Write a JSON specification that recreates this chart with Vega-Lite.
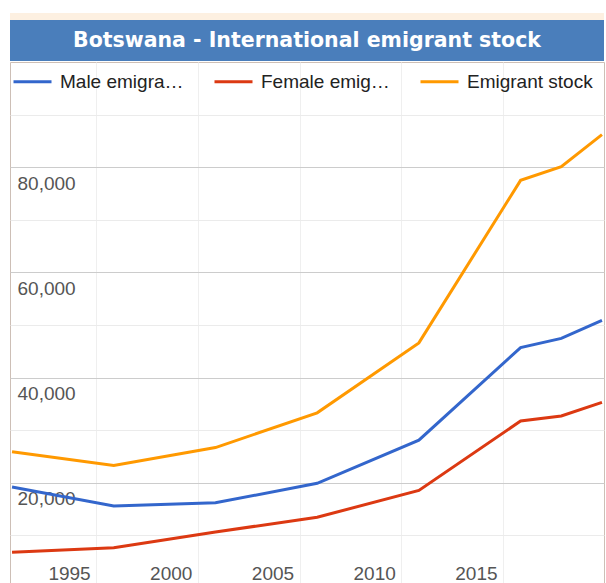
{
  "$schema": "https://vega.github.io/schema/vega-lite/v6.json",
  "autosize": {"type": "pad"},
  "padding": {"left": 5, "top": 13, "right": 0, "bottom": 0},
  "background": "white",
  "spacing": 0,
  "config": {"font": "Liberation Sans", "concat": {"spacing": 0}},
  "datasets": {
    "emigrants": [
      {"year": 1990, "series": "Male emigrants", "value": 19200},
      {"year": 1995, "series": "Male emigrants", "value": 15600},
      {"year": 2000, "series": "Male emigrants", "value": 16200},
      {"year": 2005, "series": "Male emigrants", "value": 19900},
      {"year": 2010, "series": "Male emigrants", "value": 28100},
      {"year": 2015, "series": "Male emigrants", "value": 45700},
      {"year": 2017, "series": "Male emigrants", "value": 47450},
      {"year": 2019, "series": "Male emigrants", "value": 50900},
      {"year": 1990, "series": "Female emigrants", "value": 6800},
      {"year": 1995, "series": "Female emigrants", "value": 7650},
      {"year": 2000, "series": "Female emigrants", "value": 10650},
      {"year": 2005, "series": "Female emigrants", "value": 13450},
      {"year": 2010, "series": "Female emigrants", "value": 18550},
      {"year": 2015, "series": "Female emigrants", "value": 31750},
      {"year": 2017, "series": "Female emigrants", "value": 32700},
      {"year": 2019, "series": "Female emigrants", "value": 35300},
      {"year": 1990, "series": "Emigrant stock", "value": 25900},
      {"year": 1995, "series": "Emigrant stock", "value": 23300},
      {"year": 2000, "series": "Emigrant stock", "value": 26700},
      {"year": 2005, "series": "Emigrant stock", "value": 33300},
      {"year": 2010, "series": "Emigrant stock", "value": 46600},
      {"year": 2015, "series": "Emigrant stock", "value": 77500},
      {"year": 2017, "series": "Emigrant stock", "value": 80100},
      {"year": 2019, "series": "Emigrant stock", "value": 86200}
    ],
    "heading": [{"title": "Botswana - International emigrant stock"}]
  },
  "vconcat": [
    {
      "width": 594,
      "height": 7,
      "data": {"values": []},
      "mark": "text",
      "encoding": {},
      "view": {"fill": "#fdf0e1", "stroke": null}
    },
    {
      "width": 594,
      "height": 41,
      "data": {"name": "heading"},
      "mark": {"type": "text", "font": "DejaVu Sans", "fontWeight": "bold", "fontSize": 20.5, "color": "#ffffff", "baseline": "middle", "align": "center"},
      "encoding": {"text": {"field": "title", "type": "nominal"}},
      "view": {"fill": "#4a7ebb", "stroke": null}
    },
    {
      "width": 594,
      "height": 526,
      "data": {"name": "emigrants"},
      "mark": {"type": "line", "strokeWidth": 3},
      "encoding": {
        "x": {
          "field": "year",
          "type": "quantitative",
          "scale": {"domain": [1989.9, 2019.1], "nice": false, "zero": false},
          "axis": {
            "values": [1995, 2000, 2005, 2010, 2015],
            "format": "d",
            "title": null,
            "domain": false,
            "ticks": false,
            "tickSize": 0,
            "tickOffset": -17.5,
            "labelOffset": -27.2,
            "labelPadding": -9,
            "labelBaseline": "alphabetic",
            "labelFontSize": 19,
            "labelColor": "#555555",
            "labelFlush": false,
            "labelOverlap": false,
            "gridColor": "#efefef"
          }
        },
        "y": {
          "field": "value",
          "type": "quantitative",
          "scale": {"domain": [0, 100000], "nice": false},
          "axis": {
            "values": [10000, 20000, 30000, 40000, 50000, 60000, 70000, 80000, 90000],
            "format": ",d",
            "labelExpr": "datum.value % 20000 === 0 ? datum.label : ''",
            "title": null,
            "domain": false,
            "ticks": false,
            "tickSize": 0,
            "labelAlign": "left",
            "labelPadding": -7,
            "labelBaseline": "middle",
            "labelOffset": 16,
            "labelFontSize": 19,
            "labelColor": "#555555",
            "labelOverlap": false,
            "gridColor": {"condition": {"test": "datum.value % 20000 === 0", "value": "#cccccc"}, "value": "#ebebeb"}
          }
        },
        "color": {
          "field": "series",
          "type": "nominal",
          "scale": {"domain": ["Male emigrants", "Female emigrants", "Emigrant stock"], "range": ["#3366cc", "#dc3912", "#ff9900"]},
          "legend": {
            "title": null,
            "orient": "none",
            "legendX": 2,
            "legendY": 48,
            "direction": "horizontal",
            "columns": 3,
            "symbolType": "stroke",
            "symbolSize": 1444,
            "symbolStrokeWidth": 3,
            "labelFontSize": 19,
            "labelColor": "#222222",
            "labelLimit": 129.3,
            "labelOffset": 7,
            "columnPadding": 24,
            "padding": 0
          }
        }
      },
      "view": {"stroke": "#cdbfb6"}
    }
  ]
}
